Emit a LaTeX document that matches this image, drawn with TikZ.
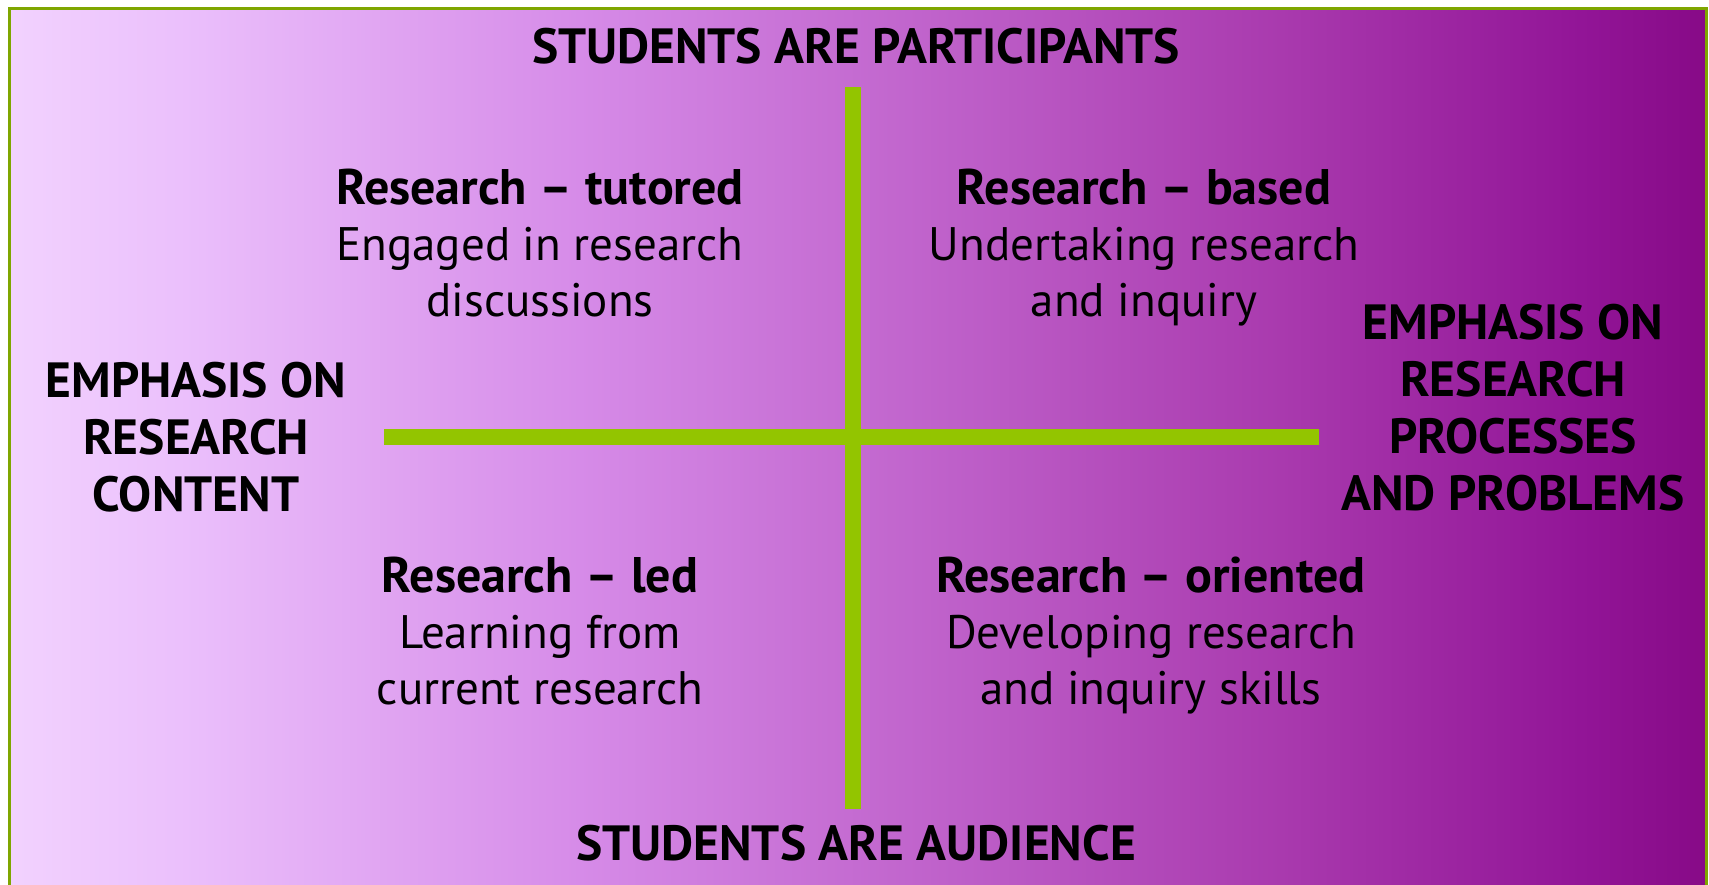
\documentclass[tikz,border=0pt]{standalone}
\usepackage{fontspec}
\setmainfont{PT Sans}
\usepackage{xcolor}
\usetikzlibrary{positioning}
\definecolor{lavender}{HTML}{F2D2FE}
\definecolor{lilac}{HTML}{EBC0FC}
\definecolor{orchid}{HTML}{D68BE8}
\definecolor{mauve}{HTML}{A93AAE}
\definecolor{violet}{HTML}{921597}
\definecolor{plum}{HTML}{870A87}
\definecolor{lime}{HTML}{93C500}
\definecolor{limeedge}{HTML}{7FA600}
\pgfdeclarehorizontalshading{quadbg}{100bp}{color(0bp)=(lavender); color(25bp)=(lavender);
  color(30bp)=(lilac); color(41.8bp)=(orchid); color(62.45bp)=(mauve);
  color(71.3bp)=(violet); color(75bp)=(plum); color(100bp)=(plum)}
\newcommand{\quadhead}[1]{{\bfseries\fontsize{50}{56}\selectfont #1}}
\tikzset{
  axis/.style={draw=lime, line width=16pt},
  pole/.style={font=\bfseries\fontsize{49.5}{57}\selectfont, align=center, inner sep=0pt},
  quad/.style={font=\fontsize{47}{56}\selectfont, align=center, inner sep=0pt, anchor=north}
}
\begin{document}
\begin{tikzpicture}[x=1pt,y=-1pt]
\useasboundingbox (0,0) rectangle (1709,884);
\fill[white] (0,0) rectangle (1709,884);
\shade[shading=quadbg] (9.5,8) rectangle (1706.5,890);
\draw[limeedge, line width=3pt] (9.5,8) rectangle (1706.5,890);
% axes
\coordinate (n) at (853,87);
\coordinate (s) at (853,809);
\coordinate (w) at (384,437);
\coordinate (e) at (1319,437);
\draw[axis] (n) -- (s);
\draw[axis] (w) -- (e);
% poles
\node[pole] (top) at (856,46) {STUDENTS ARE PARTICIPANTS};
\node[pole] (bottom) at (856,843) {STUDENTS ARE AUDIENCE};
\node[pole] (content) at (196,437) {EMPHASIS ON\\RESEARCH\\CONTENT};
\node[pole] (process) at (1513,408) {EMPHASIS ON\\RESEARCH\\PROCESSES\\AND PROBLEMS};
% quadrants
\node[quad] (tutored) at (540,169) {\quadhead{Research – tutored}\\Engaged in research\\discussions};
\node[quad] (based) at (1144,169) {\quadhead{Research – based}\\Undertaking research\\and inquiry};
\node[quad] (led) at (540,557) {\quadhead{Research – led}\\Learning from\\current research};
\node[quad] (oriented) at (1151,557) {\quadhead{Research – oriented}\\Developing research\\and inquiry skills};
\end{tikzpicture}
\end{document}
